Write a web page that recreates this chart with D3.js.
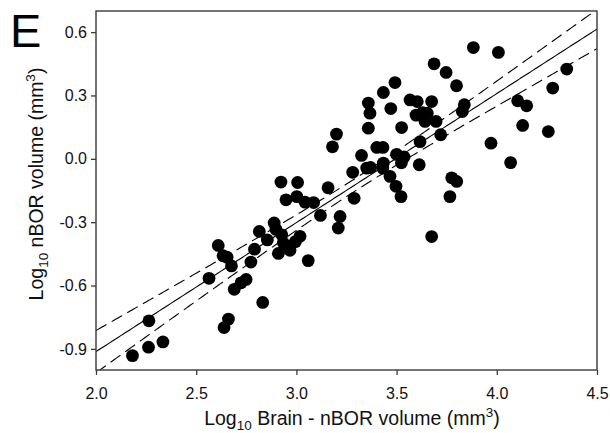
<!DOCTYPE html>
<html>
<head>
<meta charset="utf-8">
<script src="https://cdn.jsdelivr.net/npm/d3@7"></script>
<style>
  html, body { margin: 0; padding: 0; background: #fff; }
  svg { display: block; font-family: Arial, "Liberation Sans", sans-serif; }
</style>
</head>
<body>
<svg id="chart" width="610" height="433"></svg>
<script>
// Log10 (Brain - nBOR volume) values
const xValues = [
  2.182, 2.262, 2.264, 2.334, 2.564, 2.610, 2.634, 2.654, 2.676, 2.690,
  2.724, 2.749, 2.773, 2.791, 2.815, 2.832, 2.855, 2.639, 2.661, 2.889,
  2.898, 2.927, 2.935, 2.910, 2.960, 2.968, 2.995, 3.018, 3.059, 2.923,
  3.006, 2.948, 3.002, 3.043, 3.086, 3.158, 3.120, 3.218, 3.209, 3.281,
  3.351, 3.370, 3.288, 3.200, 3.180, 3.325, 3.359, 3.367, 3.434, 3.492,
  3.471, 3.359, 3.525, 3.567, 3.603, 3.675, 3.597, 3.630, 3.653, 3.642,
  3.697, 3.401, 3.432, 3.617, 3.720, 3.434, 3.431, 3.500, 3.537, 3.524,
  3.613, 3.467, 3.497, 3.522, 3.687, 3.747, 3.799, 3.838, 3.828, 3.775,
  3.800, 3.766, 3.675, 3.883, 4.008, 4.104, 4.149, 4.349, 4.279, 4.129,
  4.257, 3.971, 4.069
];
// Log10 nBOR volume values
const yValues = [
  -0.932, -0.892, -0.767, -0.867, -0.566, -0.410, -0.459, -0.466, -0.507, -0.618,
  -0.587, -0.571, -0.489, -0.428, -0.344, -0.680, -0.384, -0.799, -0.759, -0.304,
  -0.334, -0.360, -0.399, -0.448, -0.415, -0.433, -0.392, -0.367, -0.482, -0.110,
  -0.112, -0.194, -0.179, -0.205, -0.207, -0.137, -0.268, -0.273, -0.328, -0.064,
  -0.044, -0.041, -0.187, 0.117, 0.057, 0.016, 0.264, 0.216, 0.314, 0.361,
  0.238, 0.145, 0.148, 0.279, 0.271, 0.271, 0.207, 0.219, 0.216, 0.177,
  0.177, 0.054, 0.054, 0.081, 0.114, -0.020, -0.044, 0.021, 0.009, -0.019,
  -0.028, -0.083, -0.130, -0.179, 0.450, 0.409, 0.346, 0.256, 0.224, -0.090,
  -0.107, -0.179, -0.368, 0.527, 0.504, 0.275, 0.251, 0.425, 0.335, 0.158,
  0.129, 0.074, -0.018
];

const xTicks = [2.0, 2.5, 3.0, 3.5, 4.0, 4.5];
const yTicks = [-0.9, -0.6, -0.3, 0.0, 0.3, 0.6];

// Regression fit and 95% confidence band
const fitSlope = 0.611;
const fitIntercept = -2.135;
const ciCenterX = 3.30;
const ciBase = 0.0295;
const ciSpread = 0.0735;

const panelLabel = "E";

const svg = d3.select("#chart");
const margin = { left: 96, right: 13, top: 11, bottom: 63 };
const W = 610, H = 433;

const x = d3.scaleLinear().domain([2.0, 4.5]).range([margin.left, W - margin.right]);
const y = d3.scaleLinear().domain([-1.0, 0.7]).range([H - margin.bottom, margin.top]);

svg.append("defs").append("clipPath").attr("id", "plotclip")
  .append("rect")
  .attr("x", x(2.0)).attr("y", y(0.7))
  .attr("width", x(4.5) - x(2.0)).attr("height", y(-1.0) - y(0.7));

// fit lines
const xs = d3.range(2.0, 4.5001, 0.01);
const fit = v => fitIntercept + fitSlope * v;
const ci = v => Math.sqrt(ciBase * ciBase + ciSpread * ciSpread * (v - ciCenterX) * (v - ciCenterX));
const lineGen = f => d3.line().x(d => x(d)).y(d => y(f(d)))(xs);

const lines = svg.append("g").attr("clip-path", "url(#plotclip)");
lines.append("path").attr("d", lineGen(fit))
  .attr("fill", "none").attr("stroke", "#000").attr("stroke-width", 1.1);
lines.append("path").attr("d", lineGen(v => fit(v) + ci(v)))
  .attr("fill", "none").attr("stroke", "#000").attr("stroke-width", 1.1)
  .attr("stroke-dasharray", "12,6");
lines.append("path").attr("d", lineGen(v => fit(v) - ci(v)))
  .attr("fill", "none").attr("stroke", "#000").attr("stroke-width", 1.1)
  .attr("stroke-dasharray", "12,6");

// points
svg.append("g").selectAll("circle")
  .data(xValues.map((v, i) => [v, yValues[i]]))
  .join("circle")
  .attr("cx", d => x(d[0]))
  .attr("cy", d => y(d[1]))
  .attr("r", 6.4)
  .attr("fill", "#000");

// frame
svg.append("rect")
  .attr("x", x(2.0)).attr("y", y(0.7))
  .attr("width", x(4.5) - x(2.0)).attr("height", y(-1.0) - y(0.7))
  .attr("fill", "none").attr("stroke", "#3a3a3a").attr("stroke-width", 1.4);

const fmt = d => d.toFixed(1);

const xAxis = svg.append("g")
  .attr("transform", `translate(0,${y(-1.0)})`)
  .call(d3.axisBottom(x).tickValues(xTicks).tickFormat(fmt).tickSize(5).tickPadding(13));
const yAxis = svg.append("g")
  .attr("transform", `translate(${x(2.0)},0)`)
  .call(d3.axisLeft(y).tickValues(yTicks).tickFormat(fmt).tickSize(5).tickPadding(4));

[xAxis, yAxis].forEach(g => {
  g.select(".domain").remove();
  g.selectAll(".tick line").attr("stroke", "#3a3a3a").attr("stroke-width", 1.3);
  g.selectAll(".tick text").attr("font-size", 16).attr("fill", "#111")
    .attr("font-family", "Arial, 'Liberation Sans', sans-serif");
});

// axis titles
const xTitle = svg.append("text")
  .attr("x", 352).attr("y", 425)
  .attr("text-anchor", "middle")
  .attr("font-size", 19.5).attr("fill", "#111");
xTitle.append("tspan").text("Log");
xTitle.append("tspan").attr("font-size", 13.5).attr("dy", 5).text("10");
xTitle.append("tspan").attr("dy", -5).text(" Brain - nBOR volume (mm");
xTitle.append("tspan").attr("font-size", 13.5).attr("dy", -8).text("3");
xTitle.append("tspan").attr("dy", 8).text(")");

const yTitle = svg.append("text")
  .attr("transform", "translate(43,184) rotate(-90)")
  .attr("text-anchor", "middle")
  .attr("font-size", 19.5).attr("fill", "#111");
yTitle.append("tspan").text("Log");
yTitle.append("tspan").attr("font-size", 13.5).attr("dy", 5).text("10");
yTitle.append("tspan").attr("dy", -5).text(" nBOR volume (mm");
yTitle.append("tspan").attr("font-size", 13.5).attr("dy", -8).text("3");
yTitle.append("tspan").attr("dy", 8).text(")");

// panel label
svg.append("text")
  .attr("x", 10).attr("y", 47)
  .attr("font-size", 47).attr("fill", "#000")
  .text(panelLabel);
</script>
</body>
</html>
